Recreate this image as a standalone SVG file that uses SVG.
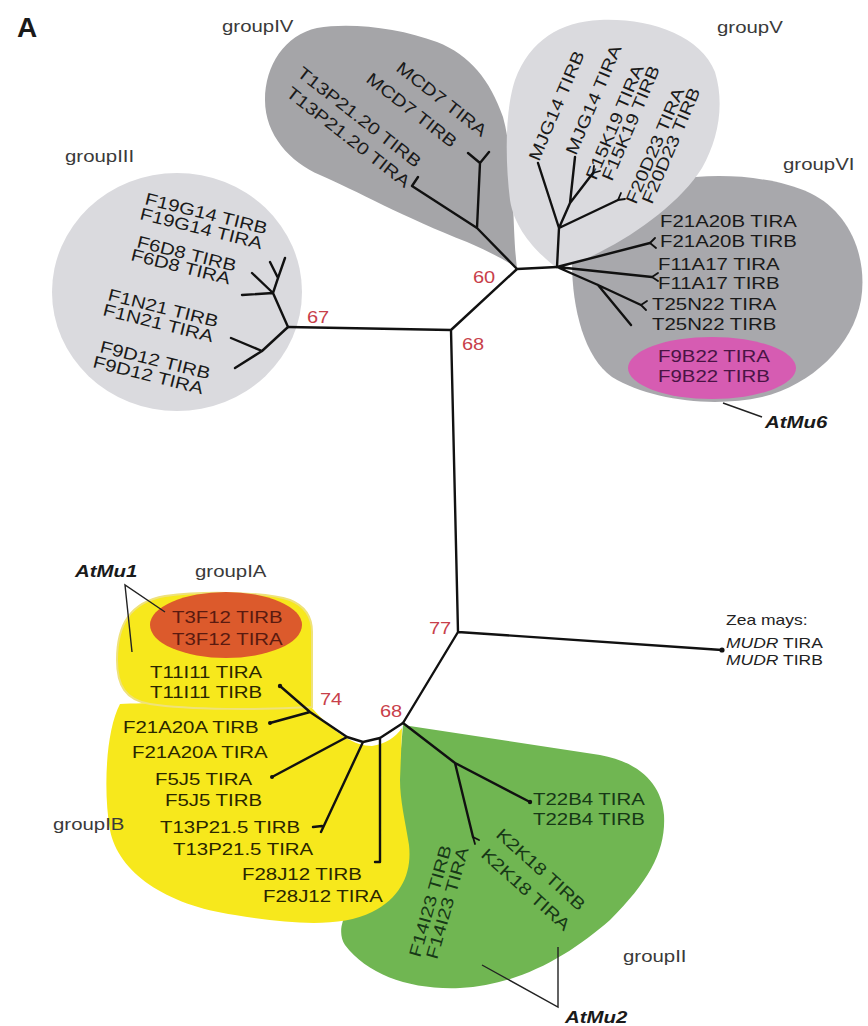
<svg xmlns="http://www.w3.org/2000/svg" width="868" height="1026" viewBox="0 0 868 1026">
<style>
.t{font-family:"Liberation Sans",Arial,sans-serif;font-size:17px;fill:#1a1a1a}
.gl{fill:#3a3a3a}
.bs{font-size:16px;fill:#c8404a}
.am{font-weight:bold;font-style:italic;fill:#1a1a1a}
.z{font-size:14px;fill:#222}
.y{fill:#2a2600}
.r{fill:#5a1a10}
.p{fill:#4a1445}
.gr{fill:#173817}
.tree{fill:none;stroke:#111;stroke-width:2.4;stroke-linecap:round;stroke-linejoin:round}
.fk{stroke-width:1.8}
.ptr{fill:none;stroke:#222;stroke-width:1.4}
</style>
<rect width="868" height="1026" fill="#ffffff"/>
<text class="t" x="17" y="37" style="font-size:28px;font-weight:bold">A</text>

<g id="groupIII">
<ellipse cx="177" cy="292" rx="125" ry="119" fill="#dadade"/>
<text class="t gl" transform="translate(65,162) scale(1.2,1)">groupIII</text>
<text class="t" transform="translate(144,204) rotate(14) scale(1.2,1)">F19G14 TIRB</text>
<text class="t" transform="translate(139,219) rotate(14) scale(1.2,1)">F19G14 TIRA</text>
<text class="t" transform="translate(136,247) rotate(14) scale(1.2,1)">F6D8 TIRB</text>
<text class="t" transform="translate(130,260) rotate(14) scale(1.2,1)">F6D8 TIRA</text>
<text class="t" transform="translate(107,300) rotate(14) scale(1.2,1)">F1N21 TIRB</text>
<text class="t" transform="translate(102,315) rotate(14) scale(1.2,1)">F1N21 TIRA</text>
<text class="t" transform="translate(99,352) rotate(14) scale(1.2,1)">F9D12 TIRB</text>
<text class="t" transform="translate(92,367) rotate(14) scale(1.2,1)">F9D12 TIRA</text>
</g>

<g id="groupIV">
<path d="M517,268 C512,230 515,160 503,117 C490,80 470,55 437,42 C400,28 350,22 317,28 C285,35 265,65 265,100 C265,135 290,162 320,175 C355,190 405,218 467,242 C490,252 505,260 517,268 Z" fill="#a5a5a8"/>
<text class="t gl" transform="translate(222,32) scale(1.2,1)">groupIV</text>
<text class="t" transform="translate(395,70) rotate(38) scale(1.2,1)">MCD7 TIRA</text>
<text class="t" transform="translate(365,81) rotate(38) scale(1.2,1)">MCD7 TIRB</text>
<text class="t" transform="translate(296,75) rotate(38) scale(1.2,1)">T13P21.20 TIRB</text>
<text class="t" transform="translate(285,95) rotate(38) scale(1.2,1)">T13P21.20 TIRA</text>
</g>

<g id="groupVI">
<path d="M572,262 C575,235 595,205 632,190 C680,172 760,170 810,193 C850,212 868,258 861,300 C853,345 812,385 762,397 C712,408 650,400 612,377 C585,358 572,310 572,262 Z" fill="#a8a8ac"/>
<ellipse cx="712" cy="368" rx="84" ry="31" fill="#d65cb2"/>
<text class="t gl" transform="translate(783,170) scale(1.2,1)">groupVI</text>
</g>

<g id="groupV">
<path d="M557,268 C540,255 515,232 510,200 C505,160 505,110 515,80 C530,40 560,22 600,20 C650,18 700,35 715,72 C725,105 718,140 702,168 C682,200 640,232 600,252 C585,260 570,266 557,268 Z" fill="#dadade"/>
<text class="t gl" transform="translate(717,33) scale(1.2,1)">groupV</text>
<text class="t" transform="translate(539,162) rotate(-67) scale(1.2,1)">MJG14 TIRB</text>
<text class="t" transform="translate(576,156) rotate(-67) scale(1.2,1)">MJG14 TIRA</text>
<text class="t" transform="translate(596,181) rotate(-67) scale(1.2,1)">F15K19 TIRA</text>
<text class="t" transform="translate(612,182) rotate(-67) scale(1.2,1)">F15K19 TIRB</text>
<text class="t" transform="translate(636,205) rotate(-67) scale(1.2,1)">F20D23 TIRA</text>
<text class="t" transform="translate(652,205) rotate(-67) scale(1.2,1)">F20D23 TIRB</text>
</g>

<g id="groupVI-labels">
<text class="t" transform="translate(660,227) scale(1.2,1)">F21A20B TIRA</text>
<text class="t" transform="translate(660,247) scale(1.2,1)">F21A20B TIRB</text>
<text class="t" transform="translate(658,270) scale(1.2,1)">F11A17 TIRA</text>
<text class="t" transform="translate(658,289) scale(1.2,1)">F11A17 TIRB</text>
<text class="t" transform="translate(652,310) scale(1.2,1)">T25N22 TIRA</text>
<text class="t" transform="translate(652,330) scale(1.2,1)">T25N22 TIRB</text>
<text class="t p" transform="translate(658,362) scale(1.2,1)">F9B22 TIRA</text>
<text class="t p" transform="translate(658,382) scale(1.2,1)">F9B22 TIRB</text>
<path class="ptr" d="M723,403 L762,417"/>
<text class="t am" transform="translate(765,428) scale(1.2,1)">AtMu6</text>
</g>

<g id="groupII">
<path d="M403,725 L600,755 C640,762 662,785 664,815 C666,850 650,880 610,920 C570,955 520,985 460,988 C410,990 368,975 345,945 C335,930 345,905 370,890 C395,875 405,850 400,800 L400,760 Z" fill="#70b652"/>
<text class="t gl" transform="translate(623,962) scale(1.2,1)">groupII</text>
<text class="t gr" transform="translate(533,805) scale(1.2,1)">T22B4 TIRA</text>
<text class="t gr" transform="translate(533,825) scale(1.2,1)">T22B4 TIRB</text>
<text class="t gr" transform="translate(495,836) rotate(42) scale(1.2,1)">K2K18 TIRB</text>
<text class="t gr" transform="translate(480,856) rotate(42) scale(1.2,1)">K2K18 TIRA</text>
<text class="t gr" transform="translate(420,958) rotate(-74) scale(1.2,1)">F14I23 TIRB</text>
<text class="t gr" transform="translate(437,960) rotate(-74) scale(1.2,1)">F14I23 TIRA</text>
<path class="ptr" d="M482,965 L558,1007 L558,947"/>
<text class="t am" transform="translate(565,1023) scale(1.2,1)">AtMu2</text>
</g>

<g id="groupIB">
<path d="M120,704 C106,730 103,790 110,830 C118,872 165,905 235,915 C290,924 340,928 372,912 C402,897 412,872 409,845 C405,820 400,800 400,780 L402,728 C395,738 385,744 372,746 C355,746 335,734 312,708 C250,703 160,702 120,704 Z" fill="#f7e81c"/>
<text class="t gl" transform="translate(53,830) scale(1.2,1)">groupIB</text>
<text class="t y" transform="translate(123,733) scale(1.2,1)">F21A20A TIRB</text>
<text class="t y" transform="translate(132,758) scale(1.2,1)">F21A20A TIRA</text>
<text class="t y" transform="translate(155,785) scale(1.2,1)">F5J5 TIRA</text>
<text class="t y" transform="translate(165,806) scale(1.2,1)">F5J5 TIRB</text>
<text class="t y" transform="translate(160,833) scale(1.2,1)">T13P21.5 TIRB</text>
<text class="t y" transform="translate(173,855) scale(1.2,1)">T13P21.5 TIRA</text>
<text class="t y" transform="translate(242,880) scale(1.2,1)">F28J12 TIRB</text>
<text class="t y" transform="translate(263,902) scale(1.2,1)">F28J12 TIRA</text>
</g>

<g id="groupIA">
<path d="M312,632 L312,707 C260,710 190,710 150,704 C125,700 117,685 117,660 C117,625 130,602 165,596 C210,590 270,593 290,600 C305,606 312,616 312,632 Z" fill="#f7e81c" stroke="#efe27a" stroke-width="2"/>
<ellipse cx="226" cy="625" rx="76" ry="33" fill="#dc5a2c"/>
<text class="t gl" transform="translate(195,577) scale(1.2,1)">groupIA</text>
<text class="t r" transform="translate(172,623) scale(1.2,1)">T3F12 TIRB</text>
<text class="t r" transform="translate(172,645) scale(1.2,1)">T3F12 TIRA</text>
<text class="t y" transform="translate(150,678) scale(1.2,1)">T11I11 TIRA</text>
<text class="t y" transform="translate(150,698) scale(1.2,1)">T11I11 TIRB</text>
<path class="ptr" d="M165,612 L125,585 L132,652"/>
<text class="t am" transform="translate(75,577) scale(1.2,1)">AtMu1</text>
</g>

<g id="zea">
<text class="t z" transform="translate(726,625) scale(1.25,1)">Zea mays:</text>
<text class="t z" transform="translate(726,648) scale(1.25,1)"><tspan font-style="italic">MUDR</tspan> TIRA</text>
<text class="t z" transform="translate(726,665) scale(1.25,1)"><tspan font-style="italic">MUDR</tspan> TIRB</text>
</g>

<g id="bootstrap">
<text class="t bs" transform="translate(307,323) scale(1.25,1)">67</text>
<text class="t bs" transform="translate(473,283) scale(1.25,1)">60</text>
<text class="t bs" transform="translate(462,350) scale(1.25,1)">68</text>
<text class="t bs" transform="translate(429,634) scale(1.25,1)">77</text>
<text class="t bs" transform="translate(320,705) scale(1.25,1)">74</text>
<text class="t bs" transform="translate(380,717) scale(1.25,1)">68</text>
</g>

<g id="tree" class="tree">
<path d="M288,327 L451,330 L517,269 L557,267 M451,330 L458,632 L722,650 M458,632 L403,723"/>
<circle cx="722" cy="650" r="2.6" fill="#111" stroke="none"/>
<path d="M288,327 L273,293 L242,295 M273,293 L252,273 M273,293 L278,278 L270,262 M278,278 L285,258 M288,327 L262,351 L231,338 M262,351 L235,368"/>
<path d="M517,269 L477,228 L480,163 L468,153 M480,163 L489,152 M477,228 L412,186 M412,186 L418,177"/>
<path d="M557,267 L559,228 L538,163 M559,228 L618,200 M559,228 L570,203 L575,157 M570,203 L593,173"/>
<path class="fk" d="M618,200 L621,193 M618,200 L625,199 M593,173 L594,166 M593,173 L600,171"/>
<path d="M557,267 L650,243 M557,267 L652,277 M557,267 L598,285 L641,305 M598,285 L631,325"/>
<path class="fk" d="M650,243 L655,238 M650,243 L656,248 M652,277 L658,273 M652,277 L658,281 M641,305 L647,301 M641,305 L646,310"/>
<path d="M403,723 L380,738 L363,742 L347,737 L310,712 L280,686 M310,712 L270,723 M347,737 L272,777 M363,742 L321,832 M313,827 L322,826 M380,738 L380,862 L375,862"/>
<path d="M403,723 L455,763 L530,802 M455,763 L473,837"/>
<path class="fk" d="M473,837 L479,840 M473,837 L475,844"/>
<circle cx="280" cy="686" r="2.2" fill="#111" stroke="none"/>
<circle cx="270" cy="723" r="2" fill="#111" stroke="none"/>
<circle cx="272" cy="777" r="2" fill="#111" stroke="none"/>
<circle cx="530" cy="802" r="2.2" fill="#111" stroke="none"/>
</g>
</svg>
